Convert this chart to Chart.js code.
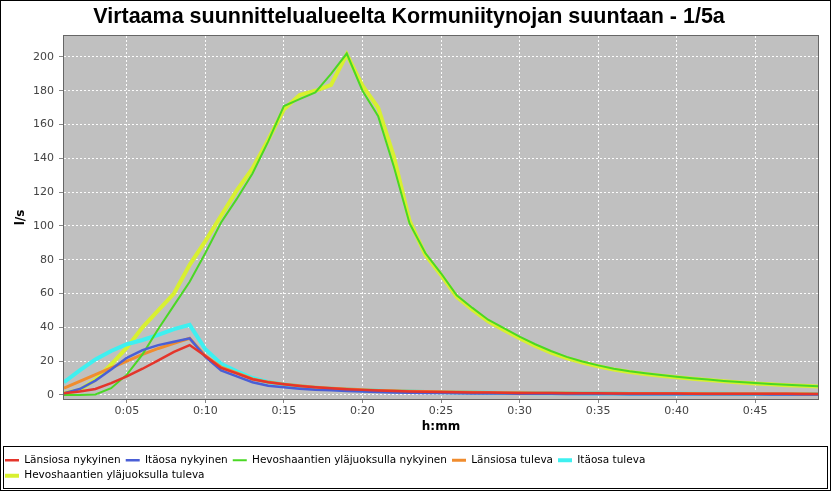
<!DOCTYPE html>
<html><head><meta charset="utf-8">
<script src="https://cdn.jsdelivr.net/npm/chart.js@4/dist/chart.umd.min.js"></script>
<style>html,body{margin:0;padding:0;background:#fff;}#wrap{width:831px;height:491px;}</style>
</head><body><div id="wrap"><canvas id="c" width="831" height="491"></canvas></div>
<script>
const chartTitle = 'Virtaama suunnittelualueelta Kormuniitynojan suuntaan - 1/5a';
const seriesNames = ['Länsiosa nykyinen','Itäosa nykyinen','Hevoshaantien yläjuoksulla nykyinen','Länsiosa tuleva','Itäosa tuleva','Hevoshaantien yläjuoksulla tuleva'];
const minutes = [1,2,3,4,5,6,7,8,9,10,11,12,13,14,15,16,17,18,19,20,21,22,23,24,25,26,27,28,29,30,31,32,33,34,35,36,37,38,39,40,41,42,43,44,45,46,47,48,49];
const lansiosaNykyinen = [1,2,3.5,7,11,15.5,20.5,25.5,29.5,23,16,12.8,9.3,7.5,6.3,5.3,4.5,3.9,3.4,3.0,2.6,2.4,2.1,1.9,1.8,1.6,1.5,1.4,1.3,1.2,1.15,1.1,1.05,1.0,0.95,0.9,0.88,0.85,0.82,0.8,0.77,0.75,0.72,0.7,0.68,0.66,0.64,0.62,0.6];
const itaosaNykyinen = [1,3.5,8.5,15,22,26.5,29.5,31.5,33.5,22.5,14.5,11,7.5,5.5,4.5,3.7,3.1,2.8,2.4,2.0,1.7,1.5,1.3,1.2,1.1,1.0,0.9,0.85,0.8,0.75,0.7,0.65,0.6,0.57,0.54,0.5,0.48,0.46,0.44,0.42,0.4,0.38,0.36,0.35,0.34,0.33,0.32,0.31,0.3];
const hevosNykyinen = [0,0,0.3,4,12,24,39,53,67,84,102,116,131,150,171,175,179,190,202,180,165,135,101.5,84,72,59,51.5,44.5,39.5,34.5,30,26,22.5,19.8,17.5,15.5,14,12.8,11.8,10.8,9.9,9.1,8.3,7.6,7.0,6.5,6.0,5.6,5.2];
const lansiosaTuleva = [4,8,12,16,20,24,27.5,30.5,33.5,23,16.5,13,9.5,7.6,6.4,5.4,4.6,4.0,3.5,3.1,2.7,2.5,2.2,2.0,1.85,1.7,1.55,1.45,1.35,1.25,1.2,1.15,1.1,1.05,1.0,0.95,0.92,0.89,0.86,0.83,0.8,0.78,0.75,0.73,0.71,0.69,0.67,0.65,0.63];
const itaosaTuleva = [7.5,14.5,21,26,30,32.5,35.5,39,41.5,27,18.5,14,10,7.6,6.2,5.1,4.3,3.7,3.2,2.8,2.5,2.2,2.0,1.8,1.65,1.5,1.4,1.3,1.2,1.1,1.05,1.0,0.95,0.9,0.85,0.8,0.78,0.75,0.72,0.7,0.68,0.66,0.64,0.62,0.6,0.58,0.56,0.54,0.52];
const hevosTuleva = [1,3,9,18,28,40,50,60,77,91,106,121,134,151,169,177.5,180,183.5,201.5,183,170,141,103,83,71,58,50.5,43.5,38.5,33.5,29,25,21.8,19.2,17,15,13.6,12.4,11.4,10.5,9.6,8.8,8.1,7.4,6.8,6.3,5.8,5.4,5.0];
const xTickValues = [5,10,15,20,25,30,35,40,45];
const xTickLabels = ['0:05','0:10','0:15','0:20','0:25','0:30','0:35','0:40','0:45'];
const yTickValues = [0,20,40,60,80,100,120,140,160,180,200];

const seriesValues = [lansiosaNykyinen, itaosaNykyinen, hevosNykyinen, lansiosaTuleva, itaosaTuleva, hevosTuleva];
const seriesColors = ['#E4352B','#4A5FD6','#4AD824','#F08C2E','#3EF0F0','#D8F030'];
const seriesWidths = [2.5,2.5,2,3,4,4];

const frame = {
  id: 'frame',
  beforeDraw(chart) {
    const {ctx, chartArea: a} = chart;
    ctx.save();
    ctx.fillStyle = '#fff';
    ctx.fillRect(0, 0, chart.width, chart.height);
    ctx.fillStyle = '#C0C0C0';
    ctx.fillRect(a.left, a.top, a.right - a.left, a.bottom - a.top);
    ctx.restore();
  },
  afterDraw(chart) {
    const {ctx, chartArea: a} = chart;
    ctx.save();
    ctx.lineWidth = 1;
    ctx.strokeStyle = '#666';
    ctx.strokeRect(a.left - 0.5, a.top - 0.5, a.right - a.left + 1, a.bottom - a.top + 1);
    ctx.strokeStyle = '#000';
    ctx.strokeRect(0.5, 0.5, chart.width - 1, chart.height - 1);
    ctx.strokeRect(3.5, 446.5, chart.width - 7, chart.height - 449);
    ctx.restore();
  }
};

Chart.defaults.font.family = 'DejaVu Sans';
new Chart(document.getElementById('c'), {
  type: 'line',
  data: {
    datasets: seriesNames.map((name, i) => ({
      label: name,
      data: minutes.map((m, j) => ({x: m, y: seriesValues[i][j]})),
      borderColor: seriesColors[i],
      backgroundColor: seriesColors[i],
      borderWidth: seriesWidths[i],
      pointRadius: 0,
      pointStyle: 'line',
      tension: 0,
      fill: false
    }))
  },
  options: {
    responsive: false,
    animation: false,
    devicePixelRatio: 1,
    layout: {padding: {left: 0, right: 13, top: 0, bottom: 0}},
    plugins: {
      title: {
        display: true, text: chartTitle, color: '#000',
        font: {family: 'Liberation Sans', weight: 'bold', size: 21.5, lineHeight: 1.2},
        padding: {top: 4, bottom: 6.2}
      },
      legend: {
        position: 'bottom', align: 'start',
        labels: {usePointStyle: true, pointStyle: 'line', pointStyleWidth: 14, color: '#000',
          font: {family: 'DejaVu Sans', size: 10.5}, padding: 5}
      },
      tooltip: {enabled: false}
    },
    scales: {
      x: {
        type: 'linear', min: 1, max: 49,
        afterBuildTicks: s => { s.ticks = xTickValues.map(v => ({value: v})); },
        afterFit: s => { s.height = 51; },
        ticks: {
          callback: v => xTickLabels[xTickValues.indexOf(v)],
          color: '#444', font: {size: 11}, padding: 2, maxRotation: 0, autoSkip: false
        },
        grid: {color: 'rgba(255,255,255,0.95)', lineWidth: 1, tickLength: 4, tickColor: '#888', tickWidth: 1, tickBorderDash: []},
        border: {display: false, dash: [2, 2]},
        title: {display: true, text: 'h:mm', color: '#000', font: {family: 'DejaVu Sans', weight: 'bold', size: 12}, padding: {top: 0, bottom: 16}}
      },
      y: {
        type: 'linear', min: -2.4, max: 212.4,
        afterBuildTicks: s => { s.ticks = yTickValues.map(v => ({value: v})); },
        afterFit: s => { s.width = 64; },
        ticks: {color: '#444', font: {size: 11}, padding: 5},
        grid: {color: 'rgba(255,255,255,0.95)', lineWidth: 1, tickLength: 5, tickColor: '#888', tickWidth: 1, tickBorderDash: []},
        border: {display: false, dash: [2, 2]},
        title: {display: true, text: 'l/s', color: '#000', font: {family: 'DejaVu Sans', weight: 'bold', size: 12}, padding: {top: 14, bottom: 0}}
      }
    }
  },
  plugins: [frame]
});
</script>
</body></html>
